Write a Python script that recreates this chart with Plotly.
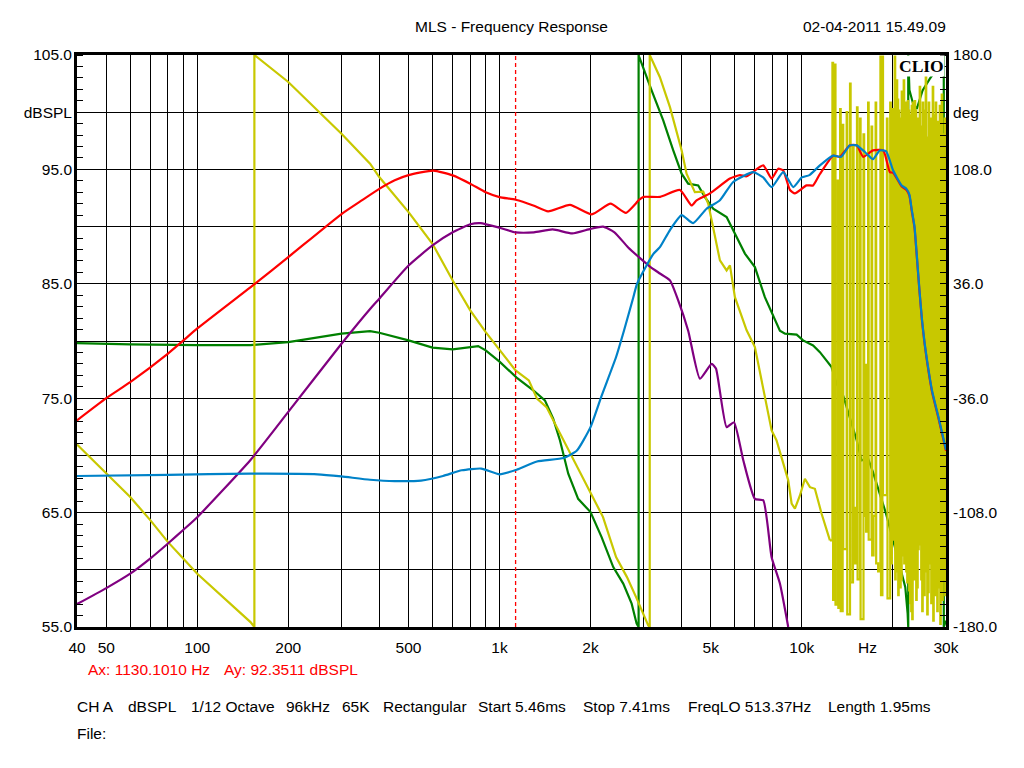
import numpy as np
import plotly.graph_objects as go

# ---------------- data ----------------
# Magnitude curves (dBSPL, left axis)
red_freq = [40, 50, 60, 80, 90, 100, 155, 200, 300, 346, 400, 450, 500, 604, 700, 800, 900, 1000,
            1130, 1293, 1448, 1710, 2020, 2330, 2620, 2900, 3000, 3400, 3952, 4320, 4487, 4968,
            5785, 6244, 6569, 7453, 7947, 8356, 8681, 9136, 9489, 10370, 10900, 11480, 12700,
            13370, 14400, 15200, 15960, 17200, 18600, 19560, 20060, 21400, 22200, 22700, 23100,
            23600, 24000, 24500, 25000, 25500, 26000, 27000, 28300, 30000]
red_db = [73.06, 75.0, 76.4, 78.9, 80.05, 81.1, 85.0, 87.33, 91.1, 92.2, 93.3, 94.05, 94.5, 94.9,
          94.48, 93.75, 93.0, 92.58, 92.35, 91.85, 91.33, 91.9, 91.07, 92.0, 91.2, 92.35, 92.6,
          92.6, 93.2, 91.85, 92.3, 92.9, 94.2, 94.5, 94.4, 95.35, 94.2, 95.06, 94.9, 93.2, 92.9,
          93.6, 93.6, 94.6, 96.2, 96.1, 97.1, 97.1, 96.1, 96.66, 96.66, 94.76, 94.7, 93.5, 93.2,
          92.7, 91.4, 89.9, 87.5, 84.4, 81.7, 79.7, 78.1, 75.5, 73.3, 70.4]

blue_freq = [40, 80, 150, 250, 300, 373, 450, 550, 650, 750, 870, 1000, 1139, 1330, 1630, 1800,
             2000, 2176, 2430, 2580, 2770, 2850, 3225, 3393, 3663, 4003, 4370, 4840, 5360, 5930,
             6900, 7450, 7950, 8680, 9370, 10000, 10600, 11480, 12700, 13500, 14400, 15200,
             16200, 17200, 18100, 19000, 20060, 21400, 22200, 22700, 23100, 23600, 24000, 24500,
             25000, 25500, 26000, 27000, 28300, 30000]
blue_db = [68.2, 68.3, 68.4, 68.35, 68.16, 67.87, 67.75, 67.8, 68.2, 68.7, 68.85, 68.35, 68.75,
           69.47, 69.77, 70.4, 72.47, 75.2, 78.6, 80.9, 83.8, 85.0, 87.6, 88.2, 89.7, 91.0, 90.3,
           91.56, 92.3, 93.9, 94.76, 94.3, 93.45, 94.76, 93.45, 94.3, 94.5, 95.35, 96.2, 96.1,
           97.1, 97.1, 96.5, 95.9, 96.66, 96.6, 94.9, 93.6, 93.3, 92.8, 91.5, 90.0, 87.6, 84.5,
           81.8, 79.8, 78.2, 75.6, 73.4, 70.5]

purple_freq = [40, 50, 60, 70, 80, 90, 100, 150, 200, 300, 373, 400, 500, 600, 700, 800, 865,
               1000, 1130, 1300, 1500, 1740, 2000, 2200, 2400, 2660, 2988, 3145, 3393, 3663,
               3900, 4209, 4604, 5032, 5200, 5640, 5964, 6400, 6996, 7453, 7947, 8464, 9019]
purple_db = [57.0, 58.4, 59.66, 61.0, 62.3, 63.5, 64.6, 69.6, 73.8, 79.76, 82.8, 83.7, 86.6,
             88.36, 89.5, 90.2, 90.3, 89.9, 89.5, 89.5, 89.75, 89.4, 89.8, 90.0, 89.5, 88.2,
             87.0, 86.5, 85.9, 85.3, 83.55, 80.9, 76.7, 78.0, 77.6, 72.47, 72.9, 69.6, 66.2,
             66.07, 61.1, 58.8, 55.0]

# Phase curves (deg, right axis)
green_freq = [40, 60, 100, 150, 200, 300, 373, 400, 500, 600, 700, 800, 850, 900, 1000, 1139,
              1293, 1413, 1505, 1585, 1688, 1820, 2000, 2176, 2378, 2566, 2736, 2842, 2885, 2885,
              2900, 3185, 3480, 3756, 4003, 4209, 4543, 4781, 5092, 5640, 6008, 6484, 6996,
              7548, 8464, 8800, 9616, 10100, 10900, 11480, 12550, 13040, 13700, 14400, 15200,
              15760, 16580, 17200, 18100, 19000, 20060, 21170, 22000, 22400, 22500, 22500,
              22700, 23300, 24000, 25100, 26500, 28000, 29500, 29500, 30000]
green_deg = [-1.3, -2.1, -2.6, -2.6, -0.7, 4.6, 6.2, 5.2, 0.4, -4.2, -5.3, -3.8, -3.2, -5.9,
             -13.0, -23.0, -31.0, -37.4, -48.9, -62.6, -83.5, -99.3, -107.7, -123.4, -142.3,
             -152.7, -165.3, -177.9, -180.0, 180.0, 178.7, 157.7, 138.8, 120.0, 105.3, 99.0,
             97.9, 90.6, 83.3, 78.0, 67.5, 55.0, 46.5, 27.6, 6.5, 4.6, 4.0, 0.4, -2.8, -7.0,
             -16.4, -26.9, -34.2, -47.9, -62.6, -75.1, -74.1, -82.5, -96.1, -108.7, -125.5,
             -142.3, -154.9, -171.6, -180.0, 180.0, 158.0, 150.0, 146.0, 157.7, 165.0, 171.4,
             180.0, -180.0, -176.0]

yellow_lo_freq = [40, 50, 60, 70, 80, 90, 100, 150, 154.5, 154.5, 200, 250, 300, 373, 400, 500,
                  600, 700, 800, 900, 1000, 1130, 1250, 1330, 1430, 1630, 1850, 2000, 2200,
                  2430, 2640, 2830, 3104, 3140, 3140, 3393, 3663, 4003, 4157, 4428, 4720, 4904,
                  5092, 5360, 5640, 5785, 6008, 6569, 6996, 7453, 7947, 8252, 8681, 9019, 9256,
                  9489, 9860, 10240, 10640, 11050, 11630, 11930, 12390]
yellow_lo_deg = [-65.1, -83.5, -98.2, -112.9, -126.6, -137.0, -146.5, -176.9, -180.0, 180.0,
                 163.0, 145.1, 130.5, 111.6, 103.2, 81.1, 61.2, 38.1, 19.3, 5.6, -5.9, -18.5,
                 -24.8, -36.3, -41.6, -62.6, -83.5, -96.1, -110.8, -136.0, -148.6, -161.2,
                 -179.0, -180.0, 180.0, 166.0, 147.2, 120.0, 105.3, 93.7, 94.0, 86.4, 71.7,
                 50.7, 44.4, 47.6, 27.6, 6.7, -3.8, -31.1, -56.3, -62.6, -77.2, -87.7, -102.4,
                 -105.5, -97.2, -86.7, -92.0, -93.0, -108.7, -115.0, -125.5]

# noisy high-frequency phase (step-drawn), 12.6 kHz - 20 kHz: separate spikes
yellow_hf1_freq = [12628, 12695, 12868, 12927, 13150, 13210, 13390, 13452, 13653, 13714, 14075,
                   14139, 14440, 14506, 14772, 14840, 15051, 15225, 15295, 15580, 15651, 16002,
                   16082, 16255, 16322, 16570, 16646, 17014, 17093, 17277, 17550, 17623, 17890,
                   18202, 18285, 18482, 18567, 19122, 19210, 19610, 19700, 19866, 19956]
yellow_hf1_deg = [175, -163, 174, -166, 101, -168, 146, -170, 136, -131, 144,
                  -172, 162, -152, 122, -140, -105, 147, -150, 140, -175, 130,
                  -110, -15, -120, 150, -125, 135, -135, -110, 150, -140, -145,
                  179, -160, 179, -97, 140, -162, 150, -140, 146, -125]
# 20 kHz - 30 kHz: dense band
yellow_hf2_freq = [20140, 20217, 20294, 20372, 20450, 20528, 20606, 20685, 20764, 20843,
                   20923, 21003, 21083, 21164, 21244, 21326, 21407, 21489, 21571, 21653,
                   21736, 21819, 21902, 21986, 22070, 22154, 22239, 22324, 22409, 22495,
                   22581, 22667, 22753, 22840, 22927, 23015, 23103, 23191, 23280, 23369,
                   23458, 23548, 23637, 23728, 23818, 23909, 24001, 24092, 24184, 24277,
                   24369, 24462, 24556, 24650, 24744, 24838, 24933, 25028, 25124, 25220,
                   25316, 25413, 25510, 25608, 25705, 25804, 25902, 26001, 26101, 26200,
                   26300, 26401, 26502, 26603, 26705, 26807, 26909, 27012, 27115, 27219,
                   27323, 27427, 27532, 27637, 27743, 27849, 27955, 28062, 28169, 28277,
                   28385, 28493, 28602, 28711, 28821, 28931, 29042, 29153, 29264, 29376,
                   29488, 29601, 29714, 29827, 29941, 30000]
yellow_hf2_deg = [120, -120, 179, -150, 140, -135, 164, -145, 152, -160,
                  145, -140, 130, -155, 140, -150, 157, -125, 155, -135,
                  164, -140, 145, -120, 150, -145, 140, -152, 151, -140,
                  145, -157, 142, -165, 135, -170, 148, -175, 150, -145,
                  140, -150, 151, -140, 145, -163, 138, -155, 140, -131,
                  125, -110, 160, -128, 110, -150, 135, -170, 150, -138,
                  100, -160, 145, -125, 170, -145, 128, -172, 115, -158,
                  150, -140, 132, -118, 140, -165, 118, -150, 160, -176,
                  105, -135, 142, -160, 150, -148, 125, -170, 138, -125,
                  112, -155, 148, -178, 120, -142, 155, -163, 130, -150,
                  100, -130, 140, -160, 120, -128]

cursor_freq = 1130.1010
cursor_level = 92.3511

# axis definitions
x_grid = [50, 60, 70, 80, 90, 100, 200, 300, 400, 500, 600, 700, 800, 900, 1000, 2000, 3000,
          4000, 5000, 6000, 7000, 8000, 9000, 10000, 20000]
x_tickvals = [40, 50, 100, 200, 500, 1000, 2000, 5000, 10000, 16500, 30000]
x_ticktext = ["40", "50", "100", "200", "500", "1k", "2k", "5k", "10k", "Hz", "30k"]
db_tickvals = [55, 65, 75, 85, 95, 100, 105]
db_ticktext = ["55.0", "65.0", "75.0", "85.0", "95.0", "dBSPL", "105.0"]
deg_gridvals = [-180, -144, -108, -72, -36, 0, 36, 72, 108, 144, 180]
deg_ticktext = ["-180.0", "", "-108.0", "", "-36.0", "", "36.0", "", "108.0", "deg", "180.0"]

FONT = "Liberation Sans, Arial, sans-serif"
FS = 15.5
LW = 2.2

yellow_hf_freq = yellow_lo_freq[-1:] + yellow_hf1_freq + yellow_hf2_freq
yellow_hf_deg = yellow_lo_deg[-1:] + yellow_hf1_deg + yellow_hf2_deg

fig = go.Figure()
# phase traces (base subplot, drawn first)
fig.add_trace(go.Scatter(x=green_freq, y=green_deg, mode="lines", yaxis="y",
                         line=dict(color="rgb(0,128,0)", width=LW), hoverinfo="skip"))
fig.add_trace(go.Scatter(x=yellow_lo_freq, y=yellow_lo_deg, mode="lines", yaxis="y",
                         line=dict(color="rgb(200,200,0)", width=LW), hoverinfo="skip"))
fig.add_trace(go.Scatter(x=yellow_hf_freq, y=yellow_hf_deg, mode="lines", yaxis="y",
                         line=dict(color="rgb(200,200,0)", width=LW, shape="hv"),
                         hoverinfo="skip"))
# magnitude traces (overlay subplot, drawn on top)
fig.add_trace(go.Scatter(x=[cursor_freq, cursor_freq], y=[55, 105], mode="lines", yaxis="y2",
                         line=dict(color="rgb(255,0,0)", width=1.3, dash="4px,3px"),
                         hoverinfo="skip"))
fig.add_trace(go.Scatter(x=purple_freq, y=purple_db, mode="lines", yaxis="y2",
                         line=dict(color="rgb(128,0,128)", width=LW, shape="spline",
                                   smoothing=0.5), hoverinfo="skip"))
fig.add_trace(go.Scatter(x=red_freq, y=red_db, mode="lines", yaxis="y2",
                         line=dict(color="rgb(255,0,0)", width=LW, shape="spline",
                                   smoothing=0.5), hoverinfo="skip"))
fig.add_trace(go.Scatter(x=blue_freq, y=blue_db, mode="lines", yaxis="y2",
                         line=dict(color="rgb(0,130,200)", width=LW, shape="spline",
                                   smoothing=0.5), hoverinfo="skip"))

# plot-area position on the page (the page body adds an 8 px offset)
OFF = 8
L, R, T, B = 77, 946, 55, 627
W, H = 1024 - OFF, 768 - OFF


def px_x(px):
    return (px - L) / (R - L)


def px_y(py):
    return (B - py) / (B - T)


annos = []


def txt(text, x, y, anchor="left", color="black", size=FS, family=FONT, **kw):
    annos.append(dict(text=text, x=px_x(x), y=px_y(y), xref="paper", yref="paper",
                      xanchor=anchor, yanchor="middle", showarrow=False,
                      font=dict(family=family, size=size, color=color), **kw))


txt("MLS - Frequency Response", 511.5, 27, anchor="center")
txt("02-04-2011 15.49.09", 948, 27, anchor="right")
txt("Ax: %.4f Hz" % cursor_freq, 86, 669, color="red")
txt("Ay: %.4f dBSPL" % cursor_level, 222, 669, color="red")
info = [("CH A", 75), ("dBSPL", 126), ("1/12 Octave", 189), ("96kHz", 284), ("65K", 340),
        ("Rectangular", 381), ("Start 5.46ms", 476), ("Stop 7.41ms", 581),
        ("FreqLO 513.37Hz", 686), ("Length 1.95ms", 826)]
for t, xp in info:
    txt(t, xp, 706)
txt("File:", 75, 733)
annos.append(dict(text="<b>CLIO</b>", x=px_x(945), y=px_y(55.5), xref="paper", yref="paper",
                  xanchor="right", yanchor="top", showarrow=False, bgcolor="white",
                  borderpad=0,
                  font=dict(family="Liberation Serif, Times New Roman, serif", size=17.5,
                            color="black")))

tfont = dict(family=FONT, size=FS, color="black")
fig.update_layout(
    width=W, height=H,
    template="none",
    paper_bgcolor="white", plot_bgcolor="white",
    margin=dict(l=L - OFF, r=W - (R - OFF), t=T - OFF, b=H - (B - OFF), pad=0,
                autoexpand=False),
    showlegend=False,
    font=dict(family=FONT, size=FS, color="black"),
    annotations=annos,
    xaxis=dict(type="log", range=[np.log10(40), np.log10(30000)], automargin=False,
               showline=True, linecolor="black", linewidth=3, mirror=True,
               tickvals=x_tickvals, ticktext=x_ticktext, ticks="", showgrid=False,
               zeroline=False, ticklabelstandoff=4, tickfont=tfont,
               minor=dict(tickvals=x_grid, showgrid=True, gridcolor="black", gridwidth=1,
                          ticks="")),
    yaxis=dict(range=[-180, 180], side="right", automargin=False,
               showline=True, linecolor="black", linewidth=3, mirror=True,
               tickvals=deg_gridvals, ticktext=deg_ticktext, ticks="",
               showgrid=True, gridcolor="black", gridwidth=1, zeroline=False,
               ticklabelstandoff=1, tickfont=tfont,
               minor=dict(tick0=-180, dtick=7.2, ticks="inside", ticklen=6,
                          tickcolor="black", tickwidth=1, showgrid=False)),
    yaxis2=dict(range=[55, 105], side="left", overlaying="y", automargin=False,
                showline=False, tickvals=db_tickvals, ticktext=db_ticktext, ticks="",
                showgrid=False, zeroline=False, ticklabelstandoff=4, tickfont=tfont,
                minor=dict(tick0=55, dtick=1, ticks="inside", ticklen=6,
                           tickcolor="black", tickwidth=1, showgrid=False)),
)

fig.write_html("out.html")
